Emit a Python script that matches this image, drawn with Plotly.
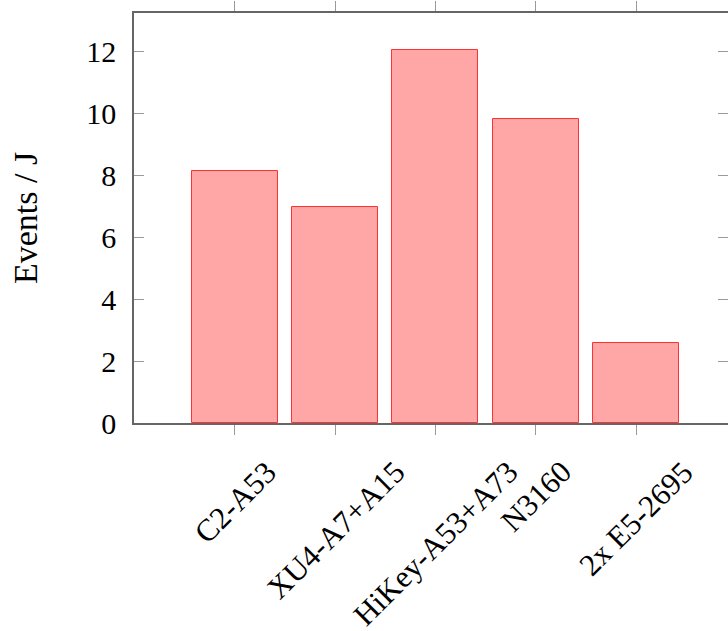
import plotly.graph_objects as go

categories = ["C2-A53", "XU4-A7+A15", "HiKey-A53+A73", "N3160", "2x E5-2695"]
events_per_joule = [8.13, 6.97, 12.03, 9.81, 2.58]
y_ticks = [0, 2, 4, 6, 8, 10, 12]
y_title = "Events / J"

FONT = "Liberation Serif"
idx = list(range(len(categories)))

fig = go.Figure()
fig.add_bar(
    x=idx, y=events_per_joule, width=0.857,
    marker=dict(color="rgb(255,166,166)", line=dict(color="rgb(255,50,50)", width=1)),
    showlegend=False, hoverinfo="skip",
)
fig.add_scatter(
    x=[idx[0]], y=[y_ticks[0]], yaxis="y2", mode="markers",
    marker=dict(opacity=0), showlegend=False, hoverinfo="skip",
)

axis_line = "#666666"
tick_col = "#9a9a9a"

fig.update_layout(
    width=728, height=631,
    margin=dict(l=134, r=0, t=13, b=208),
    paper_bgcolor="white", plot_bgcolor="white",
    font=dict(family=FONT, size=30, color="black"),
    bargap=0,
    xaxis=dict(
        range=[-1.005, 4.917], tickmode="array", tickvals=idx, ticktext=[""] * len(idx),
        ticks="outside", ticklen=10, tickwidth=1, tickcolor=tick_col,
        showline=True, linecolor=axis_line, linewidth=1.5, mirror="ticks",
        showgrid=False, zeroline=False,
    ),
    yaxis=dict(
        range=[0, 13.23], tickmode="array", tickvals=y_ticks,
        ticktext=[str(v) for v in y_ticks],
        ticks="inside", ticklen=10, tickwidth=1, tickcolor=tick_col,
        showline=True, linecolor=axis_line, linewidth=1.5, mirror=False,
        showgrid=False, zeroline=False, ticklabelstandoff=10,
        title=dict(text=y_title, font=dict(family=FONT, size=34), standoff=38),
    ),
    yaxis2=dict(
        range=[0, 13.23], overlaying="y", side="right", tickmode="array",
        tickvals=y_ticks, showticklabels=False,
        ticks="inside", ticklen=10, tickwidth=1, tickcolor=tick_col,
        showline=False, showgrid=False, zeroline=False,
    ),
)

for i, label in zip(idx, categories):
    fig.add_annotation(
        x=i, y=0, xref="x", yref="paper", yshift=-30,
        text=label, textangle=-45, showarrow=False,
        xanchor="center", yanchor="top",
        font=dict(family=FONT, size=31, color="black"), borderpad=0,
    )

fig.write_html(
    "out.html",
    config={"displayModeBar": False},
    post_script="document.body.style.margin='0';document.body.style.overflow='hidden';",
)
